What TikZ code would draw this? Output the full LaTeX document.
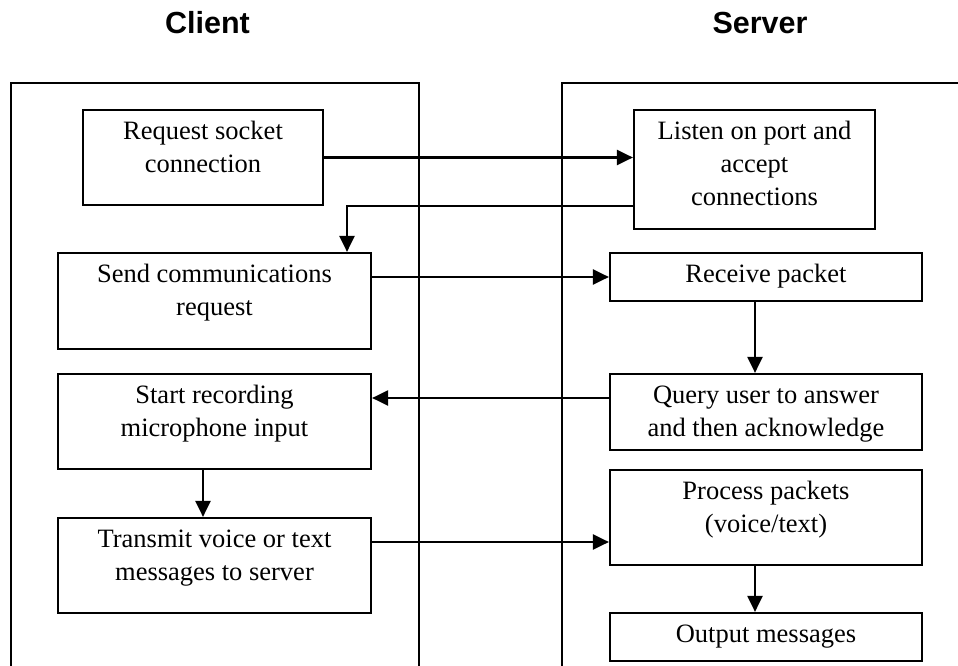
\documentclass[tikz,border=0pt]{standalone}
\usepackage{fontspec}
\setmainfont{Liberation Serif}
\newfontfamily\headfont{Liberation Sans}
\usetikzlibrary{arrows.meta}

\tikzset{
  stepbox/.style={draw, line width=2.2pt, rectangle, inner sep=0pt},
  boxtext/.style={font=\fontsize{26.5}{33}\selectfont, align=center, inner sep=0pt, anchor=north, yshift=-12.5pt},
  heading/.style={font=\headfont\bfseries\fontsize{30.5}{36}\selectfont, anchor=base, inner sep=0pt},
  lane/.style={draw, line width=2pt},
  flow/.style={draw, line width=2.2pt, -{Triangle[length=16pt,width=15pt]}}
}

\begin{document}
\begin{tikzpicture}[x=1pt,y=-1pt]
\useasboundingbox (0,0) rectangle (958,666);
\clip (0,0) rectangle (958,666);
\fill[white] (0,0) rectangle (958,666);

% headings
\node[heading] (clienthead) at (207.5,34) {Client};
\node[heading] (serverhead) at (760,34) {Server};

% swim lanes (open at the bottom / right)
\draw[lane] (11,680) -- (11,83) -- (419,83) -- (419,680);
\draw[lane] (562,680) -- (562,83) -- (975,83);

% client steps
\node[stepbox, minimum width=240pt, minimum height=95pt,
  label={[boxtext]north:Request socket\\connection}] (req) at (203,157.5) {};
\node[stepbox, minimum width=313pt, minimum height=96pt,
  label={[boxtext]north:Send communications\\request}] (send) at (214.5,301) {};
\node[stepbox, minimum width=313pt, minimum height=95pt,
  label={[boxtext]north:Start recording\\microphone input}] (start) at (214.5,421.5) {};
\node[stepbox, minimum width=313pt, minimum height=95pt,
  label={[boxtext]north:Transmit voice or text\\messages to server}] (transmit) at (214.5,565.5) {};

% server steps
\node[stepbox, minimum width=241pt, minimum height=119pt,
  label={[boxtext]north:Listen on port and\\accept\\connections}] (listen) at (754.5,169.5) {};
\node[stepbox, minimum width=312pt, minimum height=48pt,
  label={[boxtext]north:Receive packet}] (recv) at (766,277) {};
\node[stepbox, minimum width=312pt, minimum height=76pt,
  label={[boxtext]north:Query user to answer\\and then acknowledge}] (query) at (766,412) {};
\node[stepbox, minimum width=312pt, minimum height=95pt,
  label={[boxtext]north:Process packets\\(voice/text)}] (process) at (766,517.5) {};
\node[stepbox, minimum width=312pt, minimum height=48pt,
  label={[boxtext]north:Output messages}] (output) at (766,637) {};

% message flow
\draw[flow] (req.east) -- (req.east -| listen.west);
\draw[flow] ([yshift=-36.5pt]listen.west) -| ([xshift=132.5pt]send.north);
\draw[flow] (recv.west -| send.east) -- (recv.west);
\draw[flow] ([xshift=-11pt]recv.south) -- ([xshift=-11pt]query.north);
\draw[flow] ([yshift=14pt]query.west) coordinate (qout) -- (qout -| start.east);
\draw[flow] ([xshift=-11.5pt]start.south) -- ([xshift=-11.5pt]transmit.north);
\draw[flow] ([yshift=23.5pt]transmit.east) coordinate (tout) -- (tout -| process.west);
\draw[flow] ([xshift=-11pt]process.south) -- ([xshift=-11pt]output.north);
\end{tikzpicture}
\end{document}
